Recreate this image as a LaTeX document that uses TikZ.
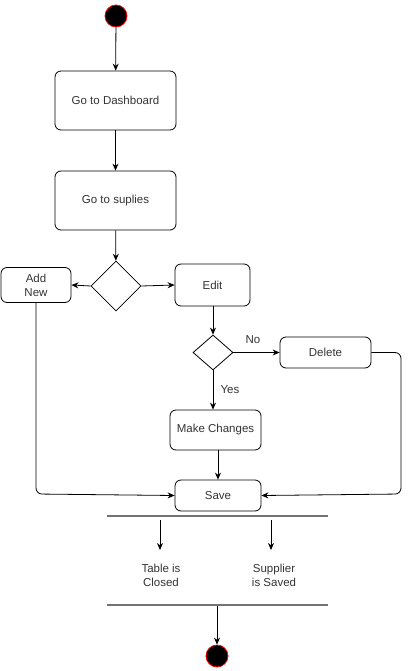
\documentclass[tikz,border=0pt]{standalone}
\usepackage{fontspec}
\setmainfont{Liberation Sans}
\usetikzlibrary{arrows.meta,shapes.geometric}
\begin{document}
\begin{tikzpicture}[x=1pt,y=-1pt,
  font=\fontsize{11.5}{14}\selectfont,
  txt/.style={text=black!80},
  act/.style={draw=black,rounded corners=6pt,minimum width=#1,align=center,txt,line width=0.8pt},
  dec/.style={draw=black,diamond,line width=0.8pt,inner sep=0pt},
  startnode/.style={circle,fill=black,draw=red,line width=0.8pt,minimum size=22pt,inner sep=0pt},
  arr/.style={-{Stealth[length=7pt,width=6pt]},line width=0.8pt},
  bar/.style={draw=black!55,line width=2.5pt},
  lbl/.style={txt,align=center}]
\useasboundingbox (0,0) rectangle (409,671);
\node[startnode] (start) at (116,16) {};
\node[act=121pt,minimum height=59pt] (dash) at (115.5,100.5) {Go to Dashboard};
\node[act=121pt,minimum height=59pt] (sup) at (115.5,200.5) {Go to suplies};
\node[dec,minimum width=50pt,minimum height=50pt] (d1) at (116,286) {};
\node[act=70pt,minimum height=35pt] (add) at (36,285) {Add\\New};
\node[act=75pt,minimum height=42pt] (edit) at (212.5,285) {Edit};
\node[dec,minimum width=40pt,minimum height=35pt] (d2) at (213,352.5) {};
\node[act=91pt,minimum height=31pt] (del) at (325.5,352.5) {Delete};
\node[act=91pt,minimum height=40pt] (mk) at (215.5,430) {Make Changes};
\node[act=86pt,minimum height=31pt] (save) at (218,495.5) {Save};
\coordinate (b1l) at (107,516);
\coordinate (b1r) at (328,516);
\coordinate (b2l) at (107,605);
\coordinate (b2r) at (328,605);
\draw[bar] (b1l) -- (b1r);
\draw[bar] (b2l) -- (b2r);
\node[lbl] (t1) at (161,575) {Table is\\Closed};
\node[lbl] (t2) at (274,575) {Supplier\\is Saved};
\node[startnode] (end) at (217,656) {};
\node[txt] (no) at (253,340) {No};
\node[txt] (yes) at (230,390) {Yes};

\draw[arr] (start) -- (dash);
\draw[arr] (dash) -- (sup);
\draw[arr] (sup) -- (d1);
\draw[arr] (d1.west) -- (add.east);
\draw[arr] (d1.east) -- (edit.west);
\draw[arr] (edit.south -| d2.north) -- (d2.north);
\draw[arr] (d2.east) -- (del.west);
\draw[arr] (d2.south) -- (d2.south |- mk.north);
\draw[arr] (mk.south -| save.north) -- (save.north);
\draw[arr,rounded corners=6pt] (del.east) -- (401,352.5) -- (401,494) -- (save.east);
\draw[arr,rounded corners=6pt] (add.south) -- (36,494) -- (save.west);
\coordinate (a1s) at (160,520);
\coordinate (a1e) at (160,550);
\coordinate (a2s) at (271,520);
\coordinate (a2e) at (271,550);
\draw[arr] (a1s) -- (a1e);
\draw[arr] (a2s) -- (a2e);
\coordinate (a3s) at (217,606);
\draw[arr] (a3s) -- (end.north);
\end{tikzpicture}
\end{document}
